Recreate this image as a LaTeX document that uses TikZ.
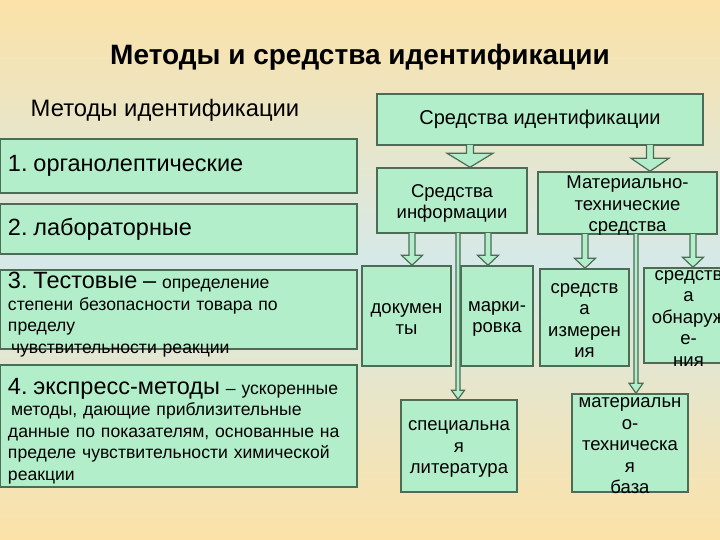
\documentclass[tikz,border=0pt]{standalone}
\usepackage{fontspec}
\setmainfont{Liberation Sans}
\usetikzlibrary{calc,positioning}
\frenchspacing

\definecolor{boxfill}{RGB}{178,238,202}
\definecolor{boxline}{RGB}{76,108,86}
\definecolor{bgpeach}{RGB}{252,226,168}
\definecolor{bgblue}{RGB}{214,233,232}

% hollow block arrow: start, target, shaft half width, head half width, head length
\newcommand{\blockarr}[5]{%
  \filldraw[blockarrow] let \p1=(#1), \p2=(#2) in
    (\x1-#3pt,\y1) -- (\x1-#3pt,\y2+#5pt) -- (\x1-#4pt,\y2+#5pt) -- (\x1,\y2)
    -- (\x1+#4pt,\y2+#5pt) -- (\x1+#3pt,\y2+#5pt) -- (\x1+#3pt,\y1);}
\newcommand{\bigpart}{\fontsize{23.5}{22}\selectfont}

\begin{document}
\begin{tikzpicture}[x=1pt,y=-1pt,line join=miter,
    box/.style={draw=boxline,fill=boxfill,line width=1.5pt,inner sep=0pt},
    smallfont/.style={font=\fontsize{18.5}{21.5}\selectfont},
    blockarrow/.style={draw=boxline,fill=boxfill,line width=1.2pt}]
  \tikzstyle{method}=[box,text width=341pt,inner xsep=8pt,align=left,
                      minimum width=357pt,font=\fontsize{17.6}{21.5}\selectfont]
  \tikzstyle{methodtext}=[method,draw=none,fill=none,yshift=-5pt]
  \tikzstyle{means}=[box,smallfont,align=center]
  \tikzstyle{txt}=[smallfont,align=center,inner sep=0pt,yshift=-3pt]

  % background
  \useasboundingbox (0,0) rectangle (720,540);
  \clip (0,0) rectangle (720,540);
  \fill[top color=bgpeach,bottom color=bgblue] (0,0) rectangle (720,262);
  \fill[top color=bgblue,bottom color=bgpeach] (0,262) rectangle (720,540);

  % headings
  \node (title) at (360,57) {\fontsize{28}{30}\selectfont\bfseries Методы и средства идентификации};
  \node (mhead) at (165,110) {\fontsize{23.8}{26}\selectfont Методы идентификации};

  % methods
  \node[method,minimum height=54pt]  (m1) at (178.5,166)
    {\bigpart 1. органолептические};
  \node[method,minimum height=50pt]  (m2) at (178.5,229)
    {\bigpart 2. лабораторные};
  \node[method,minimum height=79pt,
        label={[methodtext]center:{{\bigpart 3. Тестовые –}
          определение\\степени безопасности товара по\\пределу\\\hspace{3pt}чувствительности реакции}}]
                                     (m3) at (178.5,309.5) {};
  \node[method,minimum height=122pt,
        label={[methodtext]center:{{\bigpart 4. экспресс-методы} – ускоренные\\
          \hspace{3pt}методы, дающие приблизительные\\данные по показателям, основанные на\\
          пределе чувствительности химической\\реакции}}]
                                     (m4) at (178.5,426) {};

  % means
  \node[means,minimum width=326pt,minimum height=51pt,
        font=\fontsize{20}{22}\selectfont]              (sid)   at (540,119.5) {Средства идентификации};
  \node[means,minimum width=150pt,minimum height=65pt,
        label={[txt]center:Средства\\информации}]       (sinfo) at (452,200.5) {};
  \node[means,minimum width=179pt,minimum height=62pt,
        label={[txt]center:Материально-\\технические\\средства}] (smt) at (627.5,203) {};
  \node[means,minimum width=89pt,minimum height=100pt,
        label={[txt]center:докумен\\ты}]                (doc)   at (406.5,316) {};
  \node[means,minimum width=72pt,minimum height=100pt,
        label={[txt]center:марки-\\ровка}]              (mark)  at (497,316) {};
  \node[means,minimum width=89pt,minimum height=97pt,
        label={[txt]center:средств\\а\\измерен\\ия}]      (sizm)  at (584.5,317.5) {};
  \node[means,minimum width=89pt,minimum height=95pt,
        label={[txt]center:средств\\а\\обнаруж\\е-\\ния}] (sobn)  at (688.5,315.5) {};
  \node[means,minimum width=116pt,minimum height=92pt,
        label={[txt]center:специальна\\я\\литература}]  (slit)  at (459,446) {};
  \node[means,minimum width=116pt,minimum height=98pt,
        label={[txt]center:материальн\\о-\\техническа\\я\\база}] (smtb) at (630,443) {};

  % arrows
  \coordinate (a1) at (470,145);
  \coordinate (a2) at (650,145);
  \coordinate (a3) at (412,233);
  \coordinate (a4) at (488,233);
  \coordinate (a5) at (585,234);
  \coordinate (a6) at (693,234);
  \coordinate (a7) at (458,233);
  \coordinate (a8) at (636,234);
  \blockarr{a1}{sinfo.north}{3.5}{23}{14}
  \blockarr{a2}{smt.north}{3.5}{19}{13}
  \blockarr{a3}{doc.north}{3}{10.5}{10}
  \blockarr{a4}{mark.north}{3}{10.5}{10}
  \blockarr{a5}{sizm.north}{3}{10.5}{10}
  \blockarr{a6}{sobn.north}{3}{10.5}{10}
  \blockarr{a7}{slit.north}{2}{6.5}{9}
  \blockarr{a8}{smtb.north}{2}{7}{10}
\end{tikzpicture}
\end{document}
